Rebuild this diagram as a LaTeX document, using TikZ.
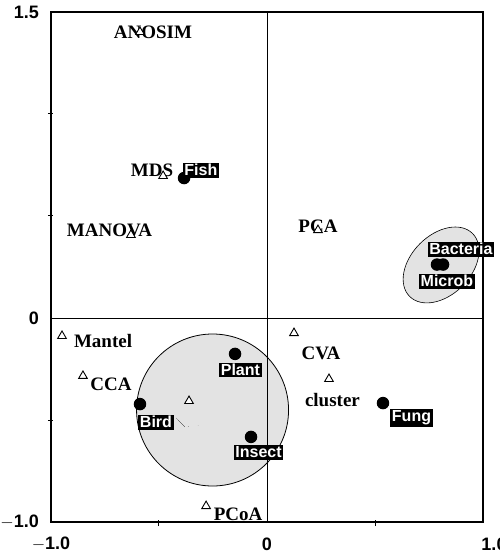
\documentclass[tikz,border=0pt]{standalone}
\usepackage{fontspec}
\setmainfont{Liberation Serif}
\setsansfont{Liberation Sans}
\usetikzlibrary{shapes.geometric, positioning}
\tikzset{method/.style = {regular polygon, regular polygon sides=3, draw, fill=white,
    line width=0.9pt, minimum size=10pt, inner sep=0pt}}
\tikzset{taxon/.style = {circle, fill=black, minimum size=12.5pt, inner sep=0pt}}
\tikzset{taxlabel/.style = {fill=black, text=white, inner sep=1.6pt,
    font=\sffamily\bfseries\fontsize{16}{16}\selectfont}}
\tikzset{methodlabel/.style = {inner sep=0pt, font=\bfseries\fontsize{19}{19}\selectfont}}
\tikzset{ticklabel/.style = {inner sep=0pt, font=\sffamily\bfseries\fontsize{18}{18}\selectfont}}
\tikzset{group/.style = {draw, fill=black!11}}

\begin{document}
\begin{tikzpicture}[x=216pt, y=204pt]
      \useasboundingbox (-267pt,-239pt) rectangle (233pt,318pt);

      \draw[group, line width=0.8pt] (-0.252,-0.451) circle (76pt);
      \begin{scope}
        \clip (-1,-1) rectangle (1,1.5);
        \draw[group, line width=0.6pt, shift={(0.806,0.260)}, rotate=45]
          (0,0) ellipse (44.5pt and 30pt);
      \end{scope}

      \draw[line width=0.6pt] (-1,0) -- (1,0) (0,-1) -- (0,1.5);
      \draw[line width=1.2pt] (-1,-1) rectangle (1,1.5);
      \foreach \y in {-0.5,0.5,1}
        \draw[line width=1pt] (-1,\y) ++(-3pt,0) -- ++(5pt,0);
      \foreach \x in {-0.5,0.5}
        \draw[line width=1pt] (\x,-1) ++(0,-4pt) -- ++(0,6pt);

      \node[ticklabel, anchor=east] (ytop) at ([xshift=-12pt]-1,1.5) {1.5};
      \node[ticklabel, anchor=east] (yzero) at ([xshift=-12pt]-1,0) {0};
      \node[ticklabel, anchor=east] (ybottom) at ([xshift=-12pt]-1,-1) {$-$1.0};
      \node[ticklabel] (xleft) at ([yshift=-22pt]-1,-1) {$-$1.0};
      \node[ticklabel] (xzero) at ([yshift=-22pt]0,-1) {0};
      \node[ticklabel] (xright) at ([xshift=11pt, yshift=-22pt]1,-1) {1.0};

      \draw[ultra thin] (-0.421,-0.490) -- (-0.380,-0.534);
      \draw[ultra thin, dash pattern=on 0.8pt off 9pt] (-0.365,-0.533) -- (-0.300,-0.527);


      \node[methodlabel] (anosimlabel) at (-0.528,1.402) {ANOSIM};
      \node[methodlabel] (mdslabel) at (-0.532,0.725) {MDS};
      \node[methodlabel] (manovalabel) at (-0.729,0.431) {MANOVA};
      \node[methodlabel] (pcalabel) at (0.236,0.451) {PCA};
      \node[methodlabel] (mantellabel) at (-0.759,-0.113) {Mantel};
      \node[methodlabel] (ccalabel) at (-0.722,-0.324) {CCA};
      \node[methodlabel] (pcoalabel) at (-0.134,-0.961) {PCoA};
      \node[methodlabel] (cvalabel) at (0.250,-0.172) {CVA};
      \node[methodlabel] (clusterlabel) at (0.303,-0.402) {cluster};

      \node[method] (anosim) at (-0.588,1.402) {};
      \node[method] (mds) at (-0.481,0.696) {};
      \node[method] (manova) at (-0.630,0.407) {};
      \node[method] (pca) at (0.236,0.431) {};
      \node[method] (mantel) at (-0.949,-0.088) {};
      \node[method] (cca) at (-0.852,-0.284) {};
      \node[method] (middle) at (-0.361,-0.407) {};
      \node[method] (pcoa) at (-0.282,-0.922) {};
      \node[method] (cva) at (0.125,-0.074) {};
      \node[method] (cluster) at (0.287,-0.299) {};


      \node[taxon] (fish) at (-0.384,0.686) {};
      \node[taxon] (plant) at (-0.148,-0.176) {};
      \node[taxon] (bird) at (-0.588,-0.422) {};
      \node[taxon] (insect) at (-0.074,-0.583) {};
      \node[taxon] (fung) at (0.537,-0.417) {};
      \node[taxon] (bacteria) at (0.787,0.262) {};
      \node[taxon] (microb) at (0.815,0.262) {};

      \node[taxlabel] (fishtag) at (-0.306,0.725) {Fish};
      \node[taxlabel] (planttag) at (-0.123,-0.255) {Plant};
      \node[taxlabel] (birdtag) at (-0.514,-0.510) {Bird};
      \node[taxlabel] (insecttag) at (-0.039,-0.659) {Insect};
      \node[taxlabel] (fungtag) at (0.669,-0.490) {Fung};
      \node[taxlabel] (bacteriatag) at (0.898,0.338) {Bacteria};
      \node[taxlabel] (microbtag) at (0.833,0.181) {Microb};
\end{tikzpicture}
\end{document}
